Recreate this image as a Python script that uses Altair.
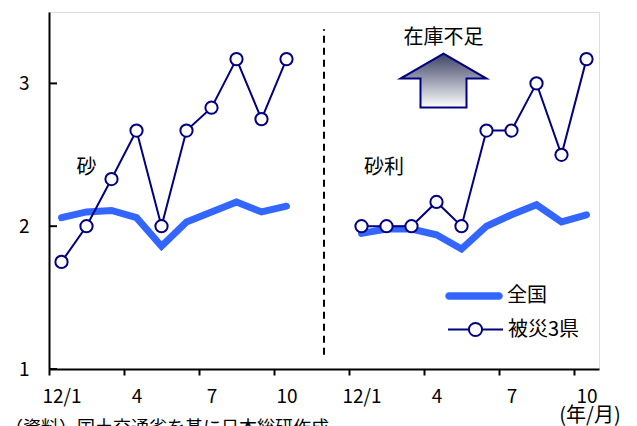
import json
import altair as alt
import pandas as pd

FONT = "Noto Sans CJK JP"

# Month positions on a shared axis: sand (砂) Jan–Oct 2012, then gravel (砂利) Jan–Oct 2012
months_sand = list(range(0, 10))
months_gravel = list(range(12, 22))

# Inventory DI (stock shortage index)
national_sand = [2.06, 2.10, 2.11, 2.06, 1.86, 2.03, 2.10, 2.17, 2.10, 2.14]
disaster_sand = [1.75, 2.00, 2.33, 2.67, 2.00, 2.67, 2.83, 3.17, 2.75, 3.17]
national_gravel = [1.95, 1.98, 1.98, 1.94, 1.84, 2.00, 2.08, 2.15, 2.03, 2.08]
disaster_gravel = [2.00, 2.00, 2.00, 2.17, 2.00, 2.67, 2.67, 3.00, 2.50, 3.17]

series_names = ["全国", "被災3県"]
tick_positions = [-0.5, 2.5, 5.5, 8.5, 11.5, 14.5, 17.5, 20.5]
tick_labels = ["12/1", "4", "7", "10", "12/1", "4", "7", "10"]
y_ticks = [1, 2, 3]

divider_x = [10.5]
divider_y = [1.1, 3.38]

note_text = ["砂", "砂利", "在庫不足"]
note_x = [1.0, 12.9, 15.28]
note_y = [2.41, 2.41, 3.32]

arrow_x = [15.28]
arrow_y = [3.02]

source_text = "（資料）国土交通省を基に日本総研作成"
unit_text = "(年/月)"

NAT_BLUE = "#3366ff"
NAVY = "#000080"

rows = []
for panel, xs, nat, dis in [
    ("sand", months_sand, national_sand, disaster_sand),
    ("gravel", months_gravel, national_gravel, disaster_gravel),
]:
    for x, a, b in zip(xs, nat, dis):
        rows.append({"panel": panel, "x": x, "series": series_names[0], "value": a})
        rows.append({"panel": panel, "x": x, "series": series_names[1], "value": b})
df = pd.DataFrame(rows)
df_nat = df[df.series == series_names[0]]
df_dis = df[df.series == series_names[1]]

x_scale = alt.Scale(domain=[-0.5, 21.5], nice=False, zero=False)
y_scale = alt.Scale(domain=[1, 3.5], nice=False, zero=False)

label_expr = f"{json.dumps(tick_labels)}[round((datum.value + 0.5) / 3)]"

x_axis = alt.Axis(
    values=tick_positions, labelExpr=label_expr, labelOffset=12.5,
    tickSize=6, tickWidth=2, tickColor="black",
    domainColor="black", domainWidth=2, grid=False,
    labelFont=FONT, labelFontSize=19, labelColor="black",
    labelPadding=12, labelFlush=False, labelOverlap=False, title=None,
)
y_axis = alt.Axis(
    values=y_ticks, format="d", tickSize=0,
    domainColor="black", domainWidth=2, grid=False,
    labelFont=FONT, labelFontSize=19, labelColor="black",
    labelPadding=20, title=None,
)

X = lambda f: alt.X(f, scale=x_scale, axis=x_axis, title=None)
Y = lambda f: alt.Y(f, scale=y_scale, axis=y_axis, title=None)

# Legend symbols: a rounded thick bar, and a thin line crossed by a hollow circle
bar_path = ("M-0.877,-0.123 L0.877,-0.123 A0.123,0.123 0 0 1 0.877,0.123 "
            "L-0.877,0.123 A0.123,0.123 0 0 1 -0.877,-0.123 Z")
marker_path = ("M-1,0 L-0.24,0 M0.24,0 L1,0 M-0.24,0 "
               "A0.24,0.24 0 1 1 0.24,0 A0.24,0.24 0 1 1 -0.24,0 Z")

national_line = alt.Chart(df_nat).mark_line(strokeWidth=7, strokeCap="round").encode(
    x=X("x:Q"), y=Y("value:Q"), detail="panel:N",
    color=alt.Color("series:N", scale=alt.Scale(domain=[series_names[0]], range=[NAT_BLUE]),
                    legend=alt.Legend(
                        orient="none", legendX=396, legendY=255, title=None, padding=0,
                        symbolType=bar_path, symbolSize=3249, symbolFillColor=NAT_BLUE,
                        symbolStrokeColor=NAT_BLUE, symbolStrokeWidth=0.5,
                        labelFont=FONT, labelFontSize=20, labelColor="black", labelOffset=4)),
)

disaster_line = alt.Chart(df_dis).mark_line(strokeWidth=2, color=NAVY).encode(
    x=X("x:Q"), y=Y("value:Q"), detail="panel:N",
)

disaster_points = alt.Chart(df_dis).mark_point(
    shape="circle", size=150, filled=True, fill="white", strokeWidth=2, opacity=1
).encode(
    x=X("x:Q"), y=Y("value:Q"),
    stroke=alt.Stroke("series:N", scale=alt.Scale(domain=[series_names[1]], range=[NAVY]),
                      legend=alt.Legend(
                          orient="none", legendX=398, legendY=289, title=None, padding=0,
                          symbolType=marker_path, symbolSize=3025, symbolFillColor="white",
                          symbolStrokeColor=NAVY, symbolStrokeWidth=2,
                          labelFont=FONT, labelFontSize=20, labelColor="black", labelOffset=4)),
)

divider = alt.Chart(pd.DataFrame({"x": divider_x, "y0": [divider_y[0]], "y1": [divider_y[1]]})).mark_rule(
    color="black", strokeWidth=2, strokeDash=[7, 5]
).encode(x=X("x:Q"), y=Y("y0:Q"), y2="y1:Q")

y_tick_rules = alt.Chart(pd.DataFrame({"v": y_ticks})).mark_rule(color="black", strokeWidth=2).encode(
    y=Y("v:Q"), x=alt.value(0), x2=alt.value(8)
)

arrow_path = ("M0,-0.628 L1,-0.047 L0.535,-0.047 L0.535,0.628 "
              "L-0.535,0.628 L-0.535,-0.047 L-1,-0.047 Z")
arrow = alt.Chart(pd.DataFrame({"x": arrow_x, "y": arrow_y})).mark_point(
    shape=arrow_path, size=7396, filled=True, opacity=1,
    fill=alt.LinearGradient(
        gradient="linear", x1=0, y1=0, x2=0, y2=1,
        stops=[alt.GradientStop(color="#3b4163", offset=0),
               alt.GradientStop(color="#ffffff", offset=1)]),
    stroke=NAVY, strokeWidth=2,
).encode(x=X("x:Q"), y=Y("y:Q"))

notes = alt.Chart(pd.DataFrame({"t": note_text, "x": note_x, "y": note_y})).mark_text(
    font=FONT, fontSize=20, color="black", align="center", baseline="middle"
).encode(x=X("x:Q"), y=Y("y:Q"), text="t:N")

source = alt.Chart(pd.DataFrame({"t": [source_text]})).mark_text(
    font=FONT, fontSize=18, color="black", align="left", baseline="top"
).encode(x=alt.value(-44), y=alt.value(408), text="t:N")

unit = alt.Chart(pd.DataFrame({"t": [unit_text]})).mark_text(
    font=FONT, fontSize=20, color="black", align="center", baseline="top"
).encode(x=alt.value(541), y=alt.value(394), text="t:N")

chart = alt.layer(
    divider, arrow, notes, national_line, disaster_line, disaster_points,
    y_tick_rules, source, unit,
).resolve_scale(color="independent", stroke="independent").properties(
    width=550, height=357,
    autosize=alt.AutoSizeParams(type="none"),
    padding={"left": 49, "top": 12, "right": 38, "bottom": 57},
).configure_view(stroke=None).configure(background="white")

chart.save("out.html", embed_options={"renderer": "svg", "actions": False})
